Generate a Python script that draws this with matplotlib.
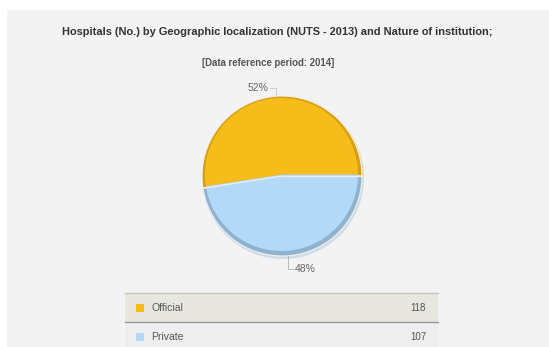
import numpy as np
import matplotlib
matplotlib.use("Agg")
import matplotlib.pyplot as plt
from matplotlib.patches import Rectangle

categories = ["Official", "Private"]
values = [118, 107]
colors = ["#f6bd1a", "#b3d9f8"]
rim_colors = ["#d8a010", "#8fb2cf"]
title = "Hospitals (No.) by Geographic localization (NUTS - 2013) and Nature of institution;"
subtitle = "[Data reference period: 2014]"

W, H = 549, 347
fig = plt.figure(figsize=(W / 100, H / 100), dpi=100)
fig.patch.set_facecolor("white")
ax = fig.add_axes([0, 0, 1, 1])

cx, cy, r = 282, 176, 80

# pie (y axis inverted -> counterclock=False draws visually counter-clockwise)
ax.pie(values, colors=rim_colors, startangle=0, counterclock=False,
       center=(cx + 1, cy + 2), radius=r + 1,
       wedgeprops=dict(linewidth=0, edgecolor="none", alpha=0.35), frame=True)
ax.pie(values, colors=rim_colors, startangle=0, counterclock=False,
       center=(cx, cy), radius=r,
       wedgeprops=dict(linewidth=0.8, edgecolor="#f0f0f0"), frame=True)
ax.pie(values, colors=colors, startangle=0, counterclock=False,
       center=(cx - 0.5, cy - 1.5), radius=r - 3.5,
       wedgeprops=dict(linewidth=0), frame=True)
# separator lines
total = sum(values)
ang = 0.0
for v in values:
    a = np.deg2rad(ang)
    ax.plot([cx, cx + r * np.cos(a)], [cy, cy - r * np.sin(a)],
            color="#eeeeee", lw=1.0, zorder=5)
    ang += 360 * v / total

ax.set_xlim(0, W)
ax.set_ylim(H, 0)
ax.set_aspect("auto")
ax.axis("off")

# background panel
ax.add_patch(Rectangle((7, 10), W - 7, H - 10, facecolor="#f3f3f3",
                       edgecolor="none", zorder=-10))

ax.text(277, 32, title, ha="center", va="center", fontsize=7.9,
        fontweight="bold", color="#333333", family="Liberation Sans")
ax.text(268, 63, subtitle, ha="center", va="center", fontsize=6.9,
        fontweight="bold", color="#555555", family="Liberation Sans")

# percentage labels with connectors
ang = 0.0
for v in values:
    mid = np.deg2rad(ang + 180 * v / total)
    px, py = cx + r * np.cos(mid), cy - r * np.sin(mid)
    pct = f"{round(100 * v / total)}%"
    if np.sin(mid) > 0:
        ly = py - 8
        ax.plot([px, px, px - 6], [py, ly, ly], color="#cccccc", lw=0.7, zorder=6)
        ax.text(px - 7, ly, pct, ha="right", va="center", fontsize=7.5,
                color="#666666", family="Liberation Sans")
    else:
        ly = py + 13
        ax.plot([px, px, px + 6], [py, ly, ly], color="#bbbbbb", lw=0.7, zorder=6)
        ax.text(px + 7, ly, pct, ha="left", va="center", fontsize=7.5,
                color="#666666", family="Liberation Sans")
    ang += 360 * v / total

# legend table
tx0, tx1 = 125, 438
row_tops = [293, 322]
row_h = [29, 25]
row_bg = ["#e7e7df", "#eeeeee"]
for i, (cat, val) in enumerate(zip(categories, values)):
    y0 = row_tops[i]
    ax.add_patch(Rectangle((tx0, y0), tx1 - tx0, row_h[i], facecolor=row_bg[i],
                           edgecolor="none", zorder=1))
    yc = y0 + 15
    ax.add_patch(Rectangle((136, yc - 4), 7.5, 7.5, facecolor=colors[i],
                           edgecolor="none", zorder=2))
    ax.text(151, yc, cat, ha="left", va="center", fontsize=7.5,
            color="#555555", family="Liberation Sans", zorder=3)
    ax.text(426, yc, str(val), ha="right", va="center", fontsize=7.0,
            color="#555555", family="Liberation Sans", zorder=3)
ax.plot([tx0, tx1], [293, 293], color="#c4c4c4", lw=1.0, zorder=4)
ax.plot([tx0, tx1], [322, 322], color="#9a9a9a", lw=1.0, zorder=4)

fig.savefig("out.png", dpi=100, facecolor="white")
